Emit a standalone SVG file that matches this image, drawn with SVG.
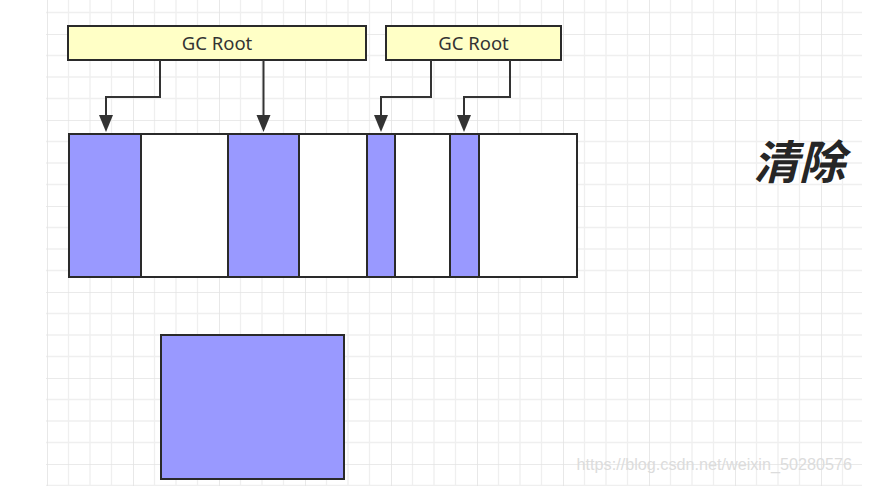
<svg xmlns="http://www.w3.org/2000/svg" width="876" height="486" viewBox="0 0 876 486">
<defs>
<pattern id="grid" patternUnits="userSpaceOnUse" x="47" y="34" width="86" height="86">
<path d="M21.5 0V86M43 0V86M64.5 0V86M0 21.5H86M0 43H86M0 64.5H86" stroke="#efefef" stroke-width="1.3" fill="none"/>
<path d="M0 0V86M0 0H86" stroke="#e3e3e3" stroke-width="1.6" fill="none"/>
</pattern>
<style>
.root{fill:#ffffc6;stroke:#2a2a2a;stroke-width:2}
.lbl{font-family:"Noto Sans","Liberation Sans",sans-serif;font-size:18.5px;fill:#333;text-anchor:middle}
.live{fill:#9999ff;stroke:#2a2a2a;stroke-width:2}
.free{fill:#ffffff;stroke:#2a2a2a;stroke-width:2}
.conn{fill:none;stroke:#333;stroke-width:2}
.head{fill:#333}
</style>
</defs>
<rect width="876" height="486" fill="#fff"/>
<rect x="46" y="0" width="816" height="486" fill="url(#grid)"/>
<g id="gcroot1">
<rect class="root" x="68" y="26" width="298" height="34"/>
<text class="lbl" x="217" y="49.5">GC Root</text>
</g>
<g id="gcroot2">
<rect class="root" x="386" y="26" width="175" height="34"/>
<text class="lbl" x="473.5" y="49.5">GC Root</text>
</g>
<g id="heap">
<rect class="live" x="69" y="134" width="72" height="143"/>
<rect class="free" x="141" y="134" width="87" height="143"/>
<rect class="live" x="228" y="134" width="71" height="143"/>
<rect class="free" x="299" y="134" width="68" height="143"/>
<rect class="live" x="367" y="134" width="28" height="143"/>
<rect class="free" x="395" y="134" width="55" height="143"/>
<rect class="live" x="450" y="134" width="29" height="143"/>
<rect class="free" x="479" y="134" width="98" height="143"/>
</g>
<g id="compacted">
<rect class="live" x="161" y="335" width="183" height="144"/>
</g>
<g id="connectors">
<path class="conn" d="M160 60V97H106V115"/>
<path class="head" d="M99 115L113 115L106 132Z"/>
<path class="conn" d="M263.5 60V115"/>
<path class="head" d="M256.5 115L270.5 115L263.5 132Z"/>
<path class="conn" d="M431 60V97H381V115"/>
<path class="head" d="M374 115L388 115L381 132Z"/>
<path class="conn" d="M510 60V97H464V115"/>
<path class="head" d="M457 115L471 115L464 132Z"/>
</g>
<g id="title">
<text x="799" y="179" font-family="'Noto Sans CJK SC',sans-serif" font-size="46" font-weight="bold" font-style="italic" fill="#262626" text-anchor="middle">清除</text>
</g>
<text x="852" y="470" font-family="'Liberation Sans',Arial,sans-serif" font-size="16.2" fill="#dcdcdc" text-anchor="end">https://blog.csdn.net/weixin_50280576</text>
</svg>
